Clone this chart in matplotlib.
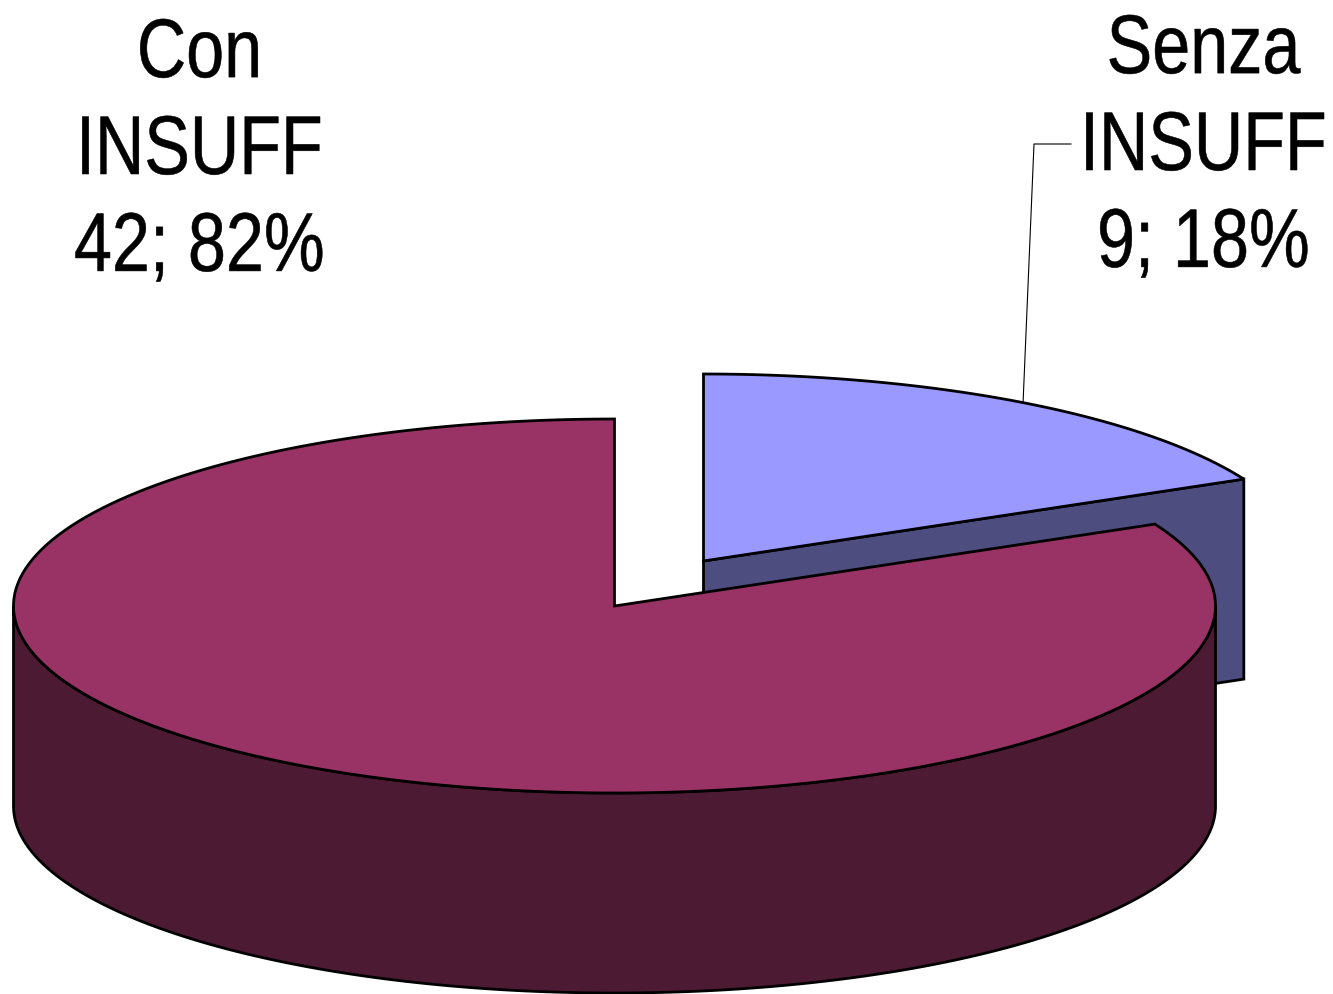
import numpy as np
import matplotlib
matplotlib.use('Agg')
import matplotlib.pyplot as plt
import matplotlib.patheffects as pe
from matplotlib.transforms import Affine2D

# pie values
categories = ['Con\nINSUFF', 'Senza\nINSUFF']
values = [42, 9]
top_colors = ['#993366', '#9999FF']
side_colors = ['#4D1A33', '#4D4D80']

total = sum(values)
# the small slice starts at 12 o'clock, +0.5 deg is what the picture shows
sweep = 360.0 * values[1] / total + 0.5

rx, ry = 601, 187
depth = 200
cx_main, cy_main = 614.5, 606
cx_small, cy_small = 703.5, 561


def rim(cx, cy, a0, a1):
    # angle measured clockwise from 12 o'clock on the flattened circle
    t = np.radians(np.linspace(a0, a1, 300))
    return cx + rx*np.sin(t), cy - ry*np.cos(t)


# the labels in the chart are Arial pulled tall, no narrow font here so squeeze in x.
# the text is anchored at x_from and its middle ends up at x_to
class Squeeze(pe.AbstractPathEffect):
    def __init__(self, sx, x_from, x_to):
        super().__init__()
        self.sx = sx
        self.x_from = x_from
        self.x_to = x_to

    def draw_path(self, renderer, gc, tpath, affine, rgbFace=None):
        squeeze = Affine2D().translate(-self.x_from, 0).scale(self.sx, 1).translate(self.x_to, 0)
        gc0 = renderer.new_gc()
        gc0.copy_properties(gc)
        # squeezing thins the upright strokes, give a bit back
        gc0.set_linewidth(0.4)
        gc0.set_foreground('black')
        renderer.draw_path(gc0, tpath, affine + squeeze, rgbFace)
        gc0.restore()


fig = plt.figure(figsize=(13.33, 9.94), dpi=100)
ax = fig.add_axes([0, 0, 1, 1])
ax.set_xlim(0, 1333)
ax.set_ylim(994, 0)
ax.axis('off')

lw = 2.0

# small slice: cut face then top
x, y = rim(cx_small, cy_small, 0, sweep)
ax.fill([cx_small, x[-1], x[-1], cx_small], [cy_small, y[-1], y[-1]+depth, cy_small+depth],
        facecolor=side_colors[1], edgecolor='black', lw=lw, joinstyle='miter')
ax.fill(np.r_[cx_small, x], np.r_[cy_small, y], facecolor=top_colors[1],
        edgecolor='black', lw=lw, joinstyle='miter')

# big slice: outer wall then top
x, y = rim(cx_main, cy_main, 90, 270)
ax.fill(np.r_[x, x[::-1]], np.r_[y, y[::-1]+depth], facecolor=side_colors[0],
        edgecolor='black', lw=lw, joinstyle='miter')
x, y = rim(cx_main, cy_main, sweep, 360)
ax.fill(np.r_[cx_main, x], np.r_[cy_main, y], facecolor=top_colors[0],
        edgecolor='black', lw=lw, joinstyle='miter')

# leader line of the small slice
lead_x = rim(cx_small, cy_small, 0, sweep)
i = np.argmin(np.abs(lead_x[0] - 1023))
ax.plot([lead_x[0][i], 1034, 1071], [lead_x[1][i], 144, 144], color='black', lw=0.8)

fam = ['Liberation Sans', 'DejaVu Sans']
label_x = [199.5, 1180]
label_x_to = [199.5, 1203.5]
label_y = [152, 148]
for name, val, lx, lx_to, ly in zip(categories, values, label_x, label_x_to, label_y):
    pct = round(100*val/total)
    ax.text(lx, ly, '{0}\n{1}; {2}%'.format(name, val, pct), ha='center', va='center',
            fontsize=60, family=fam, linespacing=1.31, color='black',
            path_effects=[Squeeze(0.82, lx, lx_to)])

fig.savefig('out.png', dpi=100)
